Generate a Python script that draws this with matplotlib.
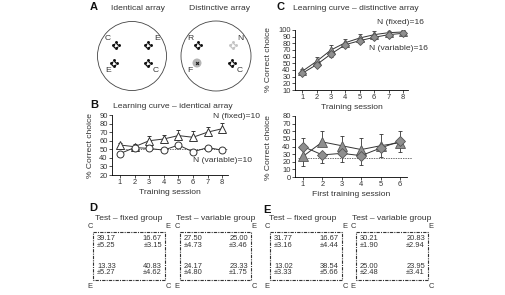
import matplotlib
matplotlib.use("Agg")
import matplotlib.pyplot as plt
from matplotlib.patches import Circle, Rectangle

plt.rcParams["font.family"] = ["Liberation Sans", "DejaVu Sans"]

W, H = 506, 295
DARK = "#333333"
GRAY_FILL = "#8f8f8f"
GRAY_EDGE = "#555555"

# ---- data ----
sessions = [1, 2, 3, 4, 5, 6, 7, 8]
first_sessions = [1, 2, 3, 4, 5, 6]

# B: identical array
b_fixed = [55, 53, 60, 62, 66, 64, 70, 74]
b_fixed_err = [2, 3, 6, 5, 7, 7, 6, 7]
b_variable = [45, 52, 51, 49, 55, 47, 52, 49]
b_variable_err = [2, 2, 2, 1, 2, 2, 1, 1]

# C top: distinctive array
c_fixed = [38, 53, 70, 81, 88, 93, 96, 97]
c_fixed_err = [3, 6, 7, 6, 6, 5, 3, 3]
c_variable = [35, 48, 64, 78, 84, 89, 93, 95]
c_variable_err = [3, 4, 4, 3, 3, 2, 2, 2]

# C bottom: first training session
cf_fixed = [27, 46, 41, 36, 41, 45]
cf_fixed_up = [0, 14, 13, 15, 16, 15]
cf_fixed_down = [12, 0, 0, 0, 0, 4]
cf_variable = [40, 29, 31, 28, 38, 47]
cf_variable_up = [11, 0, 0, 0, 0, 0]
cf_variable_down = [0, 11, 11, 12, 12, 14]

# D / E test tables: [top-left, top-right, bottom-left, bottom-right]
d_fixed = [39.17, 16.67, 13.33, 40.83]
d_fixed_sem = [5.25, 3.15, 5.27, 4.62]
d_variable = [27.50, 25.00, 24.17, 23.33]
d_variable_sem = [4.73, 3.46, 4.80, 1.75]
e_fixed = [31.77, 16.67, 13.02, 38.54]
e_fixed_sem = [3.16, 4.44, 3.33, 5.66]
e_variable = [30.21, 20.83, 25.00, 23.95]
e_variable_sem = [1.90, 2.94, 2.48, 3.41]

fig = plt.figure(figsize=(W / 100, H / 100), dpi=100)

# overlay in pixel coordinates for decorations and text
ov = fig.add_axes([0, 0, 1, 1])
ov.set_xlim(0, W)
ov.set_ylim(H, 0)
ov.axis("off")


def px_axes(l, t, r, b):
    return fig.add_axes([l / W, 1 - b / H, (r - l) / W, (b - t) / H])


def style(ax):
    for s in ["top", "right"]:
        ax.spines[s].set_visible(False)
    for s in ["left", "bottom"]:
        ax.spines[s].set_linewidth(0.6)
    ax.tick_params(direction="out", length=2, width=0.6, pad=1.2, labelsize=5.4, colors="#333333")
    ax.patch.set_alpha(0)


TXT = dict(fontsize=6.1, color="#333333")
LET = dict(fontsize=8, fontweight="bold", color="#111111")
SMALL = dict(fontsize=5.4, color="#333333")

# ---- panel A ----
ov.text(90, 7, "A", va="center", **LET)
ov.text(138, 8, "Identical array", ha="center", va="center", **TXT)
ov.text(220, 8, "Distinctive array", ha="center", va="center", **TXT)
ov.add_patch(Circle((132, 56), 34.5, fill=False, lw=0.6, ec="#444444"))
ov.add_patch(Circle((216, 56), 35, fill=False, lw=0.6, ec="#444444"))

outer_dots = [(0, -3), (-3, 0), (3, 0), (0, 3)]
inner_dots = [(-1.5, -1.5), (1.5, 1.5), (-1.5, 1.5), (1.5, -1.5)]


def icon(x, y, color):
    ov.scatter([x + dx for dx, dy in outer_dots], [y + dy for dx, dy in outer_dots],
               s=4.5, color=color, lw=0, zorder=3)
    ov.scatter([x + dx for dx, dy in inner_dots], [y + dy for dx, dy in inner_dots],
               s=1.5, color=color, lw=0, zorder=3)


icons = [(116, 45, "C", -8, -6, "#111111"), (148, 45, "E", 9, -6, "#111111"),
         (114, 63, "E", -6, 7, "#111111"), (148, 63, "C", 8, 7, "#111111"),
         (198, 45, "R", -8, -6, "#111111"), (233, 45, "N", 7, -6, "#c4c4c4"),
         (232, 63, "C", 8, 7, "#111111")]
for x, y, lab, lx, ly, col in icons:
    icon(x, y, col)
    ov.text(x + lx, y + ly, lab, ha="center", va="center", **TXT)
ov.add_patch(Circle((197, 63), 4.5, color="#b5b5b5", lw=0, zorder=2))
ov.scatter([197], [63], s=7, color="#222222", marker="X", lw=0, zorder=3)
ov.text(190, 70, "F", ha="center", va="center", **TXT)

# ---- panel B ----
ov.text(90, 105, "B", va="center", **LET)
ov.text(173, 106, "Learning curve \u2013 identical array", ha="center", va="center", **TXT)
axb = px_axes(112, 115, 228, 175)
axb.errorbar(sessions, b_fixed, yerr=[[0] * 8, b_fixed_err], color=DARK, lw=0.7,
             marker="^", ms=5.5, mfc="white", mec=DARK, mew=0.7, capsize=1.6, elinewidth=0.6, zorder=3)
axb.errorbar(sessions, b_variable, yerr=[b_variable_err, [0] * 8], color=DARK, lw=0.7,
             marker="o", ms=5, mfc="white", mec=DARK, mew=0.7, capsize=1.6, elinewidth=0.6, zorder=3)
axb.hlines(50, 0.75, 8.4, colors=DARK, linestyles=(0, (2, 1.5)), lw=0.5, zorder=1)
axb.set_xlim(0.45, 8.4)
axb.set_ylim(20, 90)
axb.set_xticks(sessions)
axb.set_yticks(range(20, 91, 10))
style(axb)
axb.set_xlabel("Training session", fontsize=6.1, color="#333333", labelpad=1.5)
ov.text(91, 145, "% Correct choice", rotation=90, ha="center", va="center", **TXT)
ov.text(213, 117, "N (fixed)=10", va="center", **TXT)
ov.text(193, 161, "N (variable)=10", va="center", **TXT)

# ---- panel C top ----
ov.text(277, 7, "C", va="center", **LET)
ov.text(356, 8, "Learning curve \u2013 distinctive array", ha="center", va="center", **TXT)
axc = px_axes(295, 30, 408, 90)
axc.errorbar(sessions, c_fixed, yerr=[[0] * 8, c_fixed_err], color=DARK, lw=0.7,
             marker="^", ms=6, mfc=GRAY_FILL, mec=GRAY_EDGE, mew=0.6, capsize=1.6, elinewidth=0.6, zorder=3)
axc.errorbar(sessions, c_variable, yerr=[c_variable_err, [0] * 8], color=DARK, lw=0.7,
             marker="D", ms=4.5, mfc=GRAY_FILL, mec=GRAY_EDGE, mew=0.6, capsize=1.6, elinewidth=0.6, zorder=3)
axc.set_xlim(0.5, 8.35)
axc.set_ylim(10, 100)
axc.set_xticks(sessions)
axc.set_yticks(range(10, 101, 10))
style(axc)
axc.set_xlabel("Training session", fontsize=6.1, color="#333333", labelpad=1.5)
ov.text(269, 60, "% Correct choice", rotation=90, ha="center", va="center", **TXT)
ov.text(377, 22, "N (fixed)=16", va="center", **TXT)
ov.text(369, 48, "N (variable)=16", va="center", **TXT)

# ---- panel C bottom ----
axf = px_axes(295, 116, 407, 177)
axf.errorbar(first_sessions, cf_fixed, yerr=[cf_fixed_down, cf_fixed_up], color=DARK, lw=0.7,
             marker="^", ms=6.5, mfc=GRAY_FILL, mec=GRAY_EDGE, mew=0.6, capsize=1.6, elinewidth=0.6, zorder=3)
axf.errorbar(first_sessions, cf_variable, yerr=[cf_variable_down, cf_variable_up], color=DARK, lw=0.7,
             marker="D", ms=5, mfc=GRAY_FILL, mec=GRAY_EDGE, mew=0.6, capsize=1.6, elinewidth=0.6, zorder=3)
axf.hlines(25, 0.75, 6.6, colors=DARK, linestyles=(0, (2, 1.5)), lw=0.5, zorder=1, clip_on=False)
axf.set_xlim(0.59, 6.36)
axf.set_ylim(0, 80)
axf.set_xticks(first_sessions)
axf.set_yticks(range(0, 81, 10))
style(axf)
axf.set_xlabel("First training session", fontsize=6.1, color="#333333", labelpad=1.5)
ov.text(269, 147, "% Correct choice", rotation=90, ha="center", va="center", **TXT)

# ---- panels D and E ----
ov.text(89, 208, "D", va="center", **LET)
ov.text(263, 210, "E", va="center", **LET)


def test_box(l, r, title_x, title, vals, sems, corners):
    t, b = 232, 280
    ov.text(title_x, 219, title, ha="center", va="center", **TXT)
    ov.add_patch(Rectangle((l, t), r - l, b - t, fill=False, lw=0.8, ec="#333333",
                           ls=(0, (3, 1, 1, 1))))
    tl, tr, bl, br = corners
    ov.text(l - 3, 227, tl, ha="center", va="center", **SMALL)
    ov.text(r + 3, 227, tr, ha="center", va="center", **SMALL)
    ov.text(l - 3, 286, bl, ha="center", va="center", **SMALL)
    ov.text(r + 3, 286, br, ha="center", va="center", **SMALL)
    spots = [(l + 4, 239, "left"), (r - 3, 239, "right"),
             (l + 4, 266, "left"), (r - 3, 266, "right")]
    for (x, y, ha), v, s in zip(spots, vals, sems):
        ov.text(x, y, f"{v:.2f}", ha=ha, va="center", **SMALL)
        ov.text(x, y + 6.5, f"\u00b1{s:.2f}", ha=ha, va="center", **SMALL)


test_box(93, 165, 129, "Test \u2013 fixed group", d_fixed, d_fixed_sem, ["C", "E", "E", "C"])
test_box(180, 251, 216, "Test \u2013 variable group", d_variable, d_variable_sem, ["C", "E", "E", "C"])
test_box(270, 342, 303, "Test \u2013 fixed group", e_fixed, e_fixed_sem, ["C", "E", "E", "C"])
test_box(356, 428, 392, "Test \u2013 variable group", e_variable, e_variable_sem, ["C", "E", "E", "C"])

fig.savefig("out.png", dpi=100)
